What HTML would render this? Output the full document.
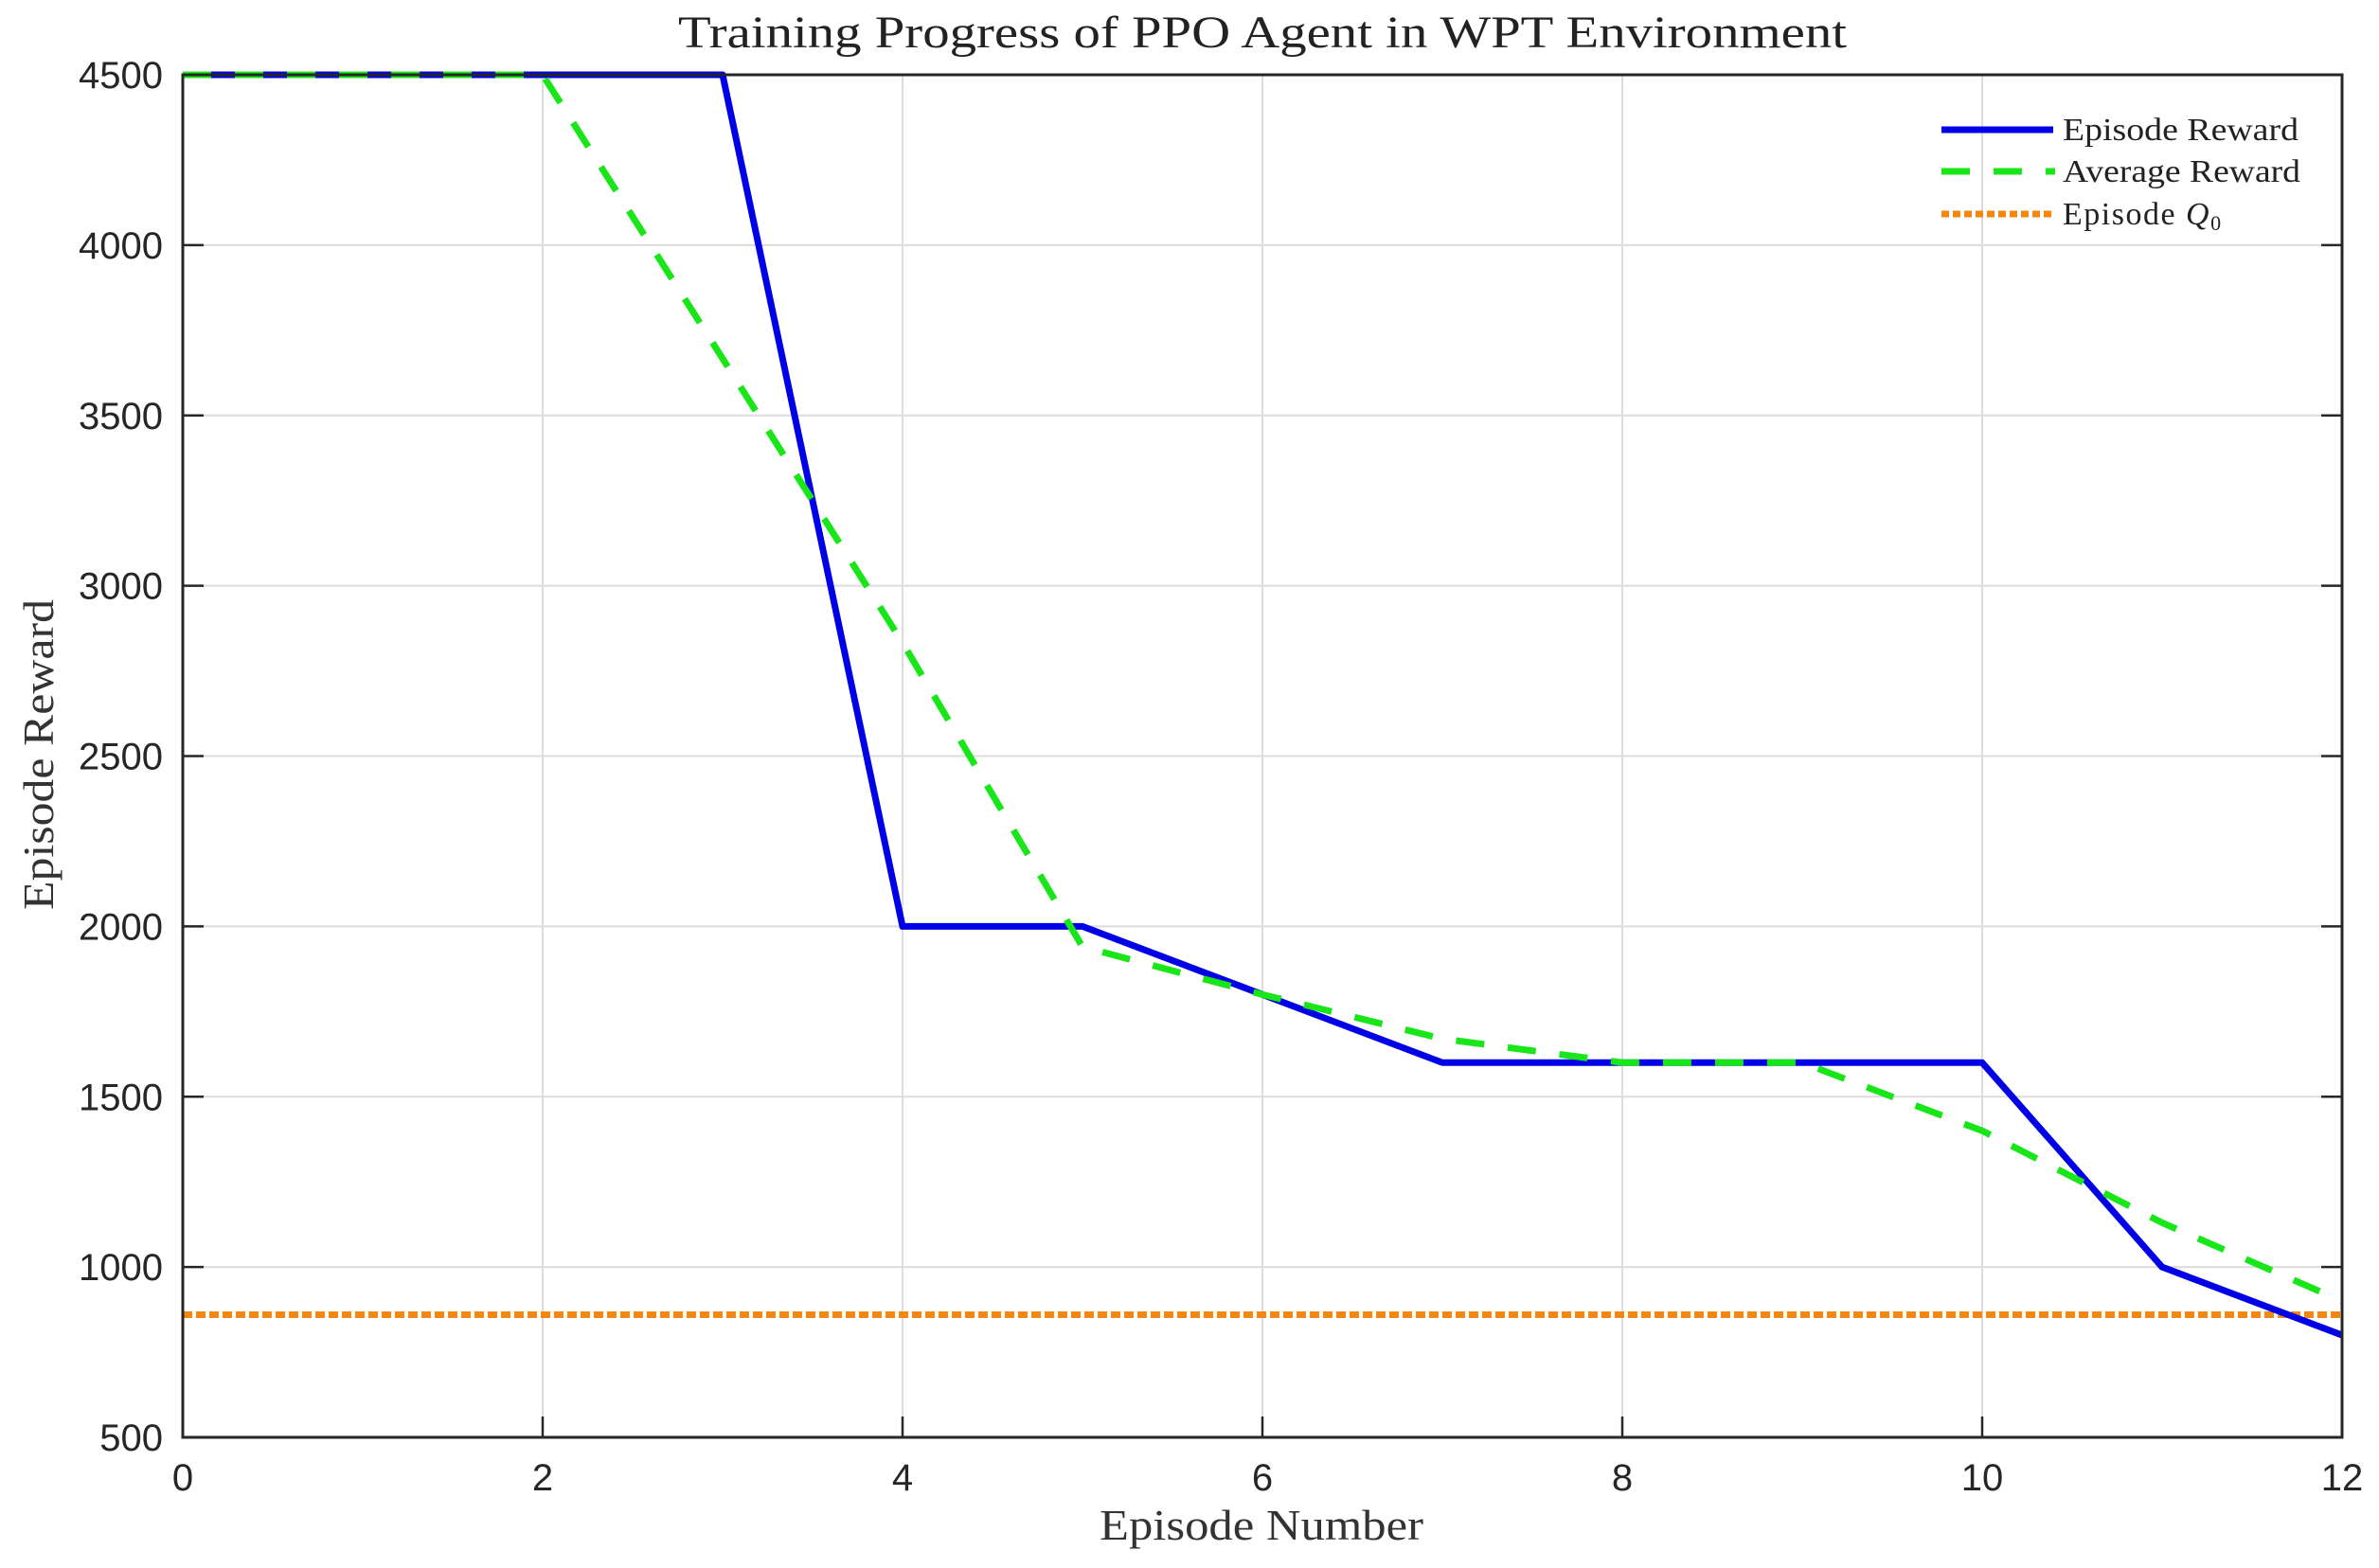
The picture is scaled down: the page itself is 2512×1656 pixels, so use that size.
<!DOCTYPE html>
<html><head><meta charset="utf-8"><style>
html,body{margin:0;padding:0;background:#fff;}
svg{display:block;}
</style></head><body>
<svg id="chart" width="2512" height="1656" viewBox="0 0 2512 1656" xmlns="http://www.w3.org/2000/svg">
<rect width="2512" height="1656" fill="#fff"/>
<g id="grid"></g>
<g id="series"></g>
<g id="axes"></g>
<text x="716" y="50" textLength="1234" lengthAdjust="spacingAndGlyphs" font-family="Liberation Serif, serif" font-size="48" fill="#222">Training Progress of PPO Agent in WPT Environment</text>
<text x="1161" y="1626" textLength="342" lengthAdjust="spacingAndGlyphs" font-family="Liberation Serif, serif" font-size="46" fill="#333">Episode Number</text>
<text transform="translate(56,961) rotate(-90)" textLength="328" lengthAdjust="spacingAndGlyphs" font-family="Liberation Serif, serif" font-size="46" fill="#333">Episode Reward</text>
<g>
 <line x1="2050" y1="137" x2="2168" y2="137" stroke="#0000e6" stroke-width="7"/>
 <text x="2178" y="148" textLength="249" lengthAdjust="spacingAndGlyphs" font-family="Liberation Serif, serif" font-size="34" fill="#222">Episode Reward</text>
 <line x1="2050" y1="181" x2="2170" y2="181" stroke="#19e619" stroke-width="7" stroke-dasharray="30,25"/>
 <text x="2178" y="192" textLength="251" lengthAdjust="spacingAndGlyphs" font-family="Liberation Serif, serif" font-size="34" fill="#222">Average Reward</text>
 <line x1="2050" y1="226" x2="2168" y2="226" stroke="#f5860f" stroke-width="7" stroke-dasharray="8,4"/>
 <text x="2178" y="237" font-family="Liberation Serif, serif" font-size="34" fill="#222" letter-spacing="1.5">Episode <tspan font-style="italic">Q</tspan><tspan font-size="22" dy="6">0</tspan></text>
</g>
</svg>
<script>
const episodes = [0,1,2,3,4,5,6,7,8,9,10,11,12];
const episodeReward = [4500,4500,4500,4500,2000,2000,1800,1600,1600,1600,1600,1000,800];
const averageReward = [4500,4500,4500,3667,2833,1940,1800,1670,1600,1600,1400,1130,900];
const q0Value = 860;
const xTicks = [0,2,4,6,8,10,12];
const yTicks = [500,1000,1500,2000,2500,3000,3500,4000,4500];

const L=193,R=2473,T=79,B=1518;
const NS='http://www.w3.org/2000/svg';
const xs=v=>L+(v-0)/(12-0)*(R-L);
const ys=v=>B-(v-500)/(4500-500)*(B-T);
function mk(tag,attrs,parent){const e=document.createElementNS(NS,tag);for(const k in attrs)e.setAttribute(k,attrs[k]);parent.appendChild(e);return e;}
const grid=document.getElementById('grid'),axes=document.getElementById('axes'),series=document.getElementById('series');
xTicks.forEach(t=>{
 const g=mk('line',{x1:xs(t),x2:xs(t),y1:T,y2:B,stroke:'#dcdcdc','stroke-width':2},grid);
 
 
 const tk=mk('line',{x1:xs(t),x2:xs(t),y1:B,y2:B-22,stroke:'#262626','stroke-width':2.5},axes);
 
 
 const tx=mk('text',{x:xs(t),y:1574,'text-anchor':'middle','font-family':'Liberation Sans, sans-serif','font-size':40,fill:'#262626'},axes);
 tx.textContent=t;
 
 
});
yTicks.forEach(t=>{
 const g=mk('line',{x1:L,x2:R,y1:ys(t),y2:ys(t),stroke:'#dcdcdc','stroke-width':2},grid);
 
 
 const tk=mk('line',{x1:L,x2:L+22,y1:ys(t),y2:ys(t),stroke:'#262626','stroke-width':2.5},axes);
 
 
 const tk2=mk('line',{x1:R,x2:R-22,y1:ys(t),y2:ys(t),stroke:'#262626','stroke-width':2.5},axes);
 
 
 const tx=mk('text',{x:172,y:ys(t)+14,'text-anchor':'end','font-family':'Liberation Sans, sans-serif','font-size':40,fill:'#262626'},axes);
 tx.textContent=t;
 
 
});
const box=mk('rect',{x:L,y:T,width:R-L,height:B-T,fill:'none',stroke:'#262626','stroke-width':3},axes);


const q=mk('line',{x1:L,x2:R,y1:ys(q0Value),y2:ys(q0Value),stroke:'#f5860f','stroke-width':7,'stroke-dasharray':'10,4'},series);


const pb=mk('polyline',{points:episodes.map((e,i)=>xs(e)+','+ys(episodeReward[i])).join(' '),fill:'none',stroke:'#0000e6','stroke-width':7,'stroke-linejoin':'round'},series);


const pg=mk('polyline',{points:episodes.map((e,i)=>xs(e)+','+ys(averageReward[i])).join(' '),fill:'none',stroke:'#19e619','stroke-width':7,'stroke-dasharray':'30,25'},series);


</script>
</body></html>
